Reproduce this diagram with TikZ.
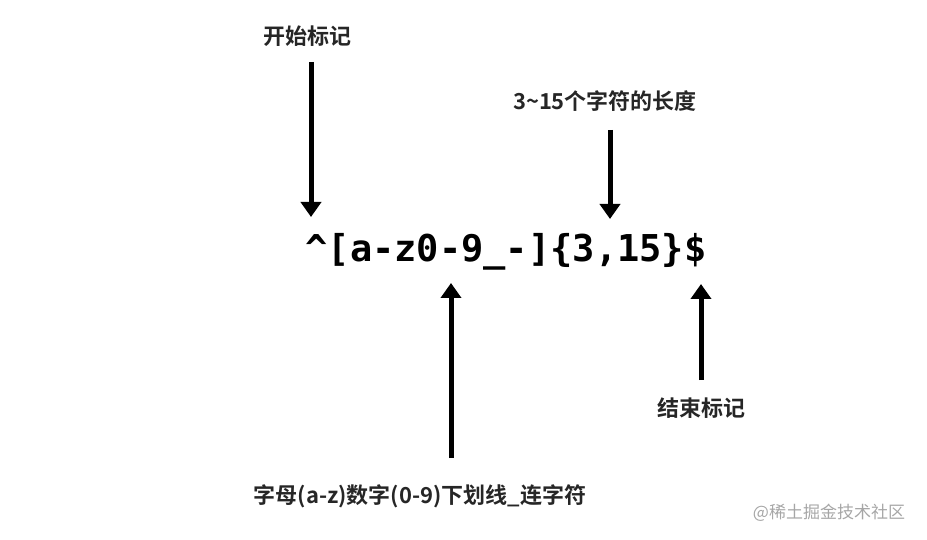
\documentclass[tikz,border=0pt]{standalone}
\usepackage{fontspec}
\newfontfamily\cjk{Noto Sans CJK SC}
\newfontfamily\cjkb{Noto Sans CJK SC Bold}
\newfontfamily\monob{DejaVu Sans Mono Bold}
\usetikzlibrary{arrows.meta}
\begin{document}
\begin{tikzpicture}[x=1pt,y=-1pt,
  lbl/.style={font=\cjkb\fontsize{22}{26}\selectfont, text=black!85, inner sep=0pt},
  arr/.style={line width=5pt, -{Triangle[width=20pt,length=15pt]}, black}]
\useasboundingbox (0,0) rectangle (927,540);
\node[font=\monob\fontsize{37}{44}\selectfont, inner sep=0pt, anchor=base] (re) at (506,262) {\^{}[a-z0-9\_-]\{3,15\}\$};
\node[lbl] (start) at (307,36) {开始标记};
\node[lbl] (len) at (605,101) {3\textasciitilde15个字符的长度};
\node[lbl] (end) at (701,408) {结束标记};
\node[lbl] (chars) at (420,496) {字母(a-z)数字(0-9)下划线\_连字符};
\node[font=\cjk\fontsize{17}{20}\selectfont, text=black!35, inner sep=0pt] (wm) at (829,513) {@稀土掘金技术社区};
\coordinate (s1) at (311,62);  \coordinate (s2) at (311,217);
\coordinate (l1) at (610,130); \coordinate (l2) at (610,219);
\coordinate (c1) at (451,458); \coordinate (c2) at (451,283);
\coordinate (e1) at (701,380); \coordinate (e2) at (701,284);
\draw[arr] (s1) -- (s2);
\draw[arr] (l1) -- (l2);
\draw[arr] (c1) -- (c2);
\draw[arr] (e1) -- (e2);
\end{tikzpicture}
\end{document}
